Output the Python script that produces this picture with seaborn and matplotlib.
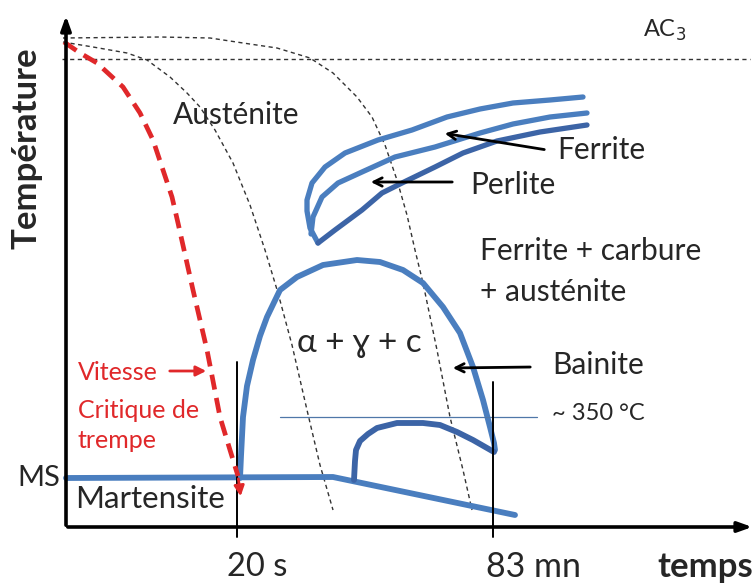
import numpy as np
import pandas as pd
import matplotlib
matplotlib.use("Agg")
import matplotlib.pyplot as plt
import seaborn as sns

sns.set_theme(style="white")
plt.rcParams["font.family"] = ["Lato", "DejaVu Sans"]
plt.rcParams["lines.solid_joinstyle"] = "round"
plt.rcParams["lines.dash_joinstyle"] = "round"

# Schematic TTT diagram: x = time (schematic units), y = temperature (schematic units)
AXIS_ORIGIN = (66, 59)
X_END = 755
Y_END = 573

AC3_LEVEL = 527
T350_LEVEL = 169

# Critical quench rate (red dashed cooling curve)
crit_x = [64, 80, 97, 123, 140, 153, 163, 172, 178, 193, 207, 220, 230, 238]
crit_y = [544, 533, 523, 499, 473, 446, 416, 389, 363, 296, 236, 169, 136, 110]

# Two slower cooling curves (thin dashed)
cool1_x = [63, 93, 127, 147, 170, 187, 200, 215, 233, 250, 265, 278, 292, 307, 320, 333]
cool1_y = [544, 539, 533, 526, 509, 493, 479, 456, 423, 381, 336, 293, 241, 176, 121, 76]
cool2_x = [63, 160, 210, 243, 277, 310, 333, 357, 372, 385, 397, 407, 415, 423, 437, 450, 463, 472]
cool2_y = [548, 549, 548, 543, 538, 528, 513, 489, 469, 441, 406, 371, 336, 303, 236, 169, 116, 76]

# MS line and end of bainite transformation
ms_x = [66, 333, 515]
ms_y = [108, 109, 71]

# Ferrite + carbide nose
nose_x = [240, 241, 243, 247, 253, 260, 267, 280, 297, 323, 357, 380, 403, 423,
          443, 460, 473, 483, 490, 494, 495]
nose_y = [108, 130, 169, 200, 226, 250, 269, 296, 309, 321, 326, 324, 316, 303,
          279, 253, 219, 186, 159, 143, 136]

# Bainite dome
bain_x = [354, 355, 356, 360, 368, 377, 397, 423, 440, 457, 473, 494]
bain_y = [106, 125, 136, 145, 152, 158, 163, 163, 161, 154, 146, 134]

# Ferrite / pearlite start and end curves
fer_x = [318, 310, 307, 307, 312, 325, 345, 378, 412, 447, 480, 513, 550, 583]
fer_y = [343, 358, 375, 386, 403, 419, 433, 446, 456, 469, 477, 483, 486, 489]
mid_x = [311, 313, 322, 338, 362, 395, 435, 480, 513, 550, 587]
mid_y = [352, 369, 389, 403, 414, 429, 439, 453, 462, 469, 473]
per_x = [318, 335, 362, 382, 402, 435, 463, 497, 540, 587]
per_y = [343, 356, 376, 393, 403, 419, 433, 445, 454, 461]

# Time marks
t20_x, t83_x = 237, 493
t20_top, t83_top = 224, 204
tick_bottom = 49

BLUE = "#4a7ebf"
DARK_BLUE = "#3c64a6"
RED = "#e0282a"
TEXT = "#262626"

fig = plt.figure(figsize=(7.56, 5.86), dpi=100)
ax = fig.add_axes([0, 0, 1, 1])
ax.set_xlim(0, 756)
ax.set_ylim(0, 586)
ax.axis("off")


def curve(xs, ys, **kw):
    df = pd.DataFrame({"x": xs, "y": ys})
    sns.lineplot(data=df, x="x", y="y", sort=False, estimator=None, ax=ax, **kw)


# Axes with arrows
ax.annotate("", xy=(X_END, AXIS_ORIGIN[1]), xytext=(AXIS_ORIGIN[0] - 1, AXIS_ORIGIN[1]),
            arrowprops=dict(arrowstyle="-|>,head_length=0.7,head_width=0.25", lw=2.6, color="black"))
ax.annotate("", xy=(AXIS_ORIGIN[0], Y_END), xytext=(AXIS_ORIGIN[0], AXIS_ORIGIN[1] - 1),
            arrowprops=dict(arrowstyle="-|>,head_length=0.7,head_width=0.25", lw=2.6, color="black"))

# AC3 level
ax.plot([62, 750], [AC3_LEVEL, AC3_LEVEL], ls=(0, (3, 2.5)), lw=1.0, color="#333333")

# Cooling curves
curve(cool1_x, cool1_y, color="#333333", lw=1.0, linestyle=(0, (3, 2.5)))
curve(cool2_x, cool2_y, color="#333333", lw=1.0, linestyle=(0, (3, 2.5)))

# Transformation curves
curve(ms_x, ms_y, color=BLUE, lw=4.2)
curve(nose_x, nose_y, color=BLUE, lw=4.2)
curve(bain_x, bain_y, color=DARK_BLUE, lw=4.2)
curve(fer_x, fer_y, color=BLUE, lw=3.8)
curve(mid_x, mid_y, color=BLUE, lw=3.8)
curve(per_x, per_y, color=DARK_BLUE, lw=3.8)

# ~350 °C level
ax.plot([280, 537], [T350_LEVEL, T350_LEVEL], color="#4f77a8", lw=0.9)

# Time marks
ax.plot([t20_x, t20_x], [tick_bottom, t20_top], color="black", lw=1.4)
ax.plot([t83_x, t83_x], [tick_bottom, t83_top], color="black", lw=1.4)

# Critical quench rate
curve(crit_x, crit_y, color=RED, lw=3.4, linestyle=(0, (3.2, 1.8)))
ax.annotate("", xy=(241, 87), xytext=(238, 110),
            arrowprops=dict(arrowstyle="-|>,head_length=0.5,head_width=0.25", lw=2.0, color=RED))

# Pointer arrows
arrow_kw = dict(arrowstyle="->,head_length=0.5,head_width=0.25", lw=2.0, color="black")
ax.annotate("", xy=(442, 453), xytext=(547, 436), arrowprops=arrow_kw)
ax.annotate("", xy=(368, 404), xytext=(455, 404), arrowprops=arrow_kw)
ax.annotate("", xy=(450, 218), xytext=(533, 219), arrowprops=arrow_kw)
ax.annotate("", xy=(209, 215), xytext=(167, 215),
            arrowprops=dict(arrowstyle="-|>,head_length=0.5,head_width=0.25", lw=2.0, color=RED))

# Labels
fs = 21.5
ax.text(27, 438, "Température", rotation=90, ha="center", va="center",
        fontsize=25, fontweight="bold", color=TEXT)
ax.text(705, 19, "temps", ha="center", va="center", fontsize=25, fontweight="bold", color=TEXT)
ax.text(257, 19, "20 s", ha="center", va="center", fontsize=23.5, color=TEXT)
ax.text(533, 19, "83 mn", ha="center", va="center", fontsize=24.5, color=TEXT)
ax.text(60, 108, "MS", ha="right", va="center", fontsize=21, color=TEXT)
ax.text(75, 87, "Martensite", ha="left", va="center", fontsize=22.5, color=TEXT)
ax.text(173, 471, "Austénite", ha="left", va="center", fontsize=fs, color=TEXT)
ax.text(643, 556, r"AC$_3$", ha="left", va="center", fontsize=17, color=TEXT)
ax.text(557, 436, "Ferrite", ha="left", va="center", fontsize=fs, color=TEXT)
ax.text(470, 401, "Perlite", ha="left", va="center", fontsize=fs, color=TEXT)
ax.text(480, 335, "Ferrite + carbure", ha="left", va="center", fontsize=fs, color=TEXT)
ax.text(480, 294, "+ austénite", ha="left", va="center", fontsize=fs, color=TEXT)
ax.text(297, 243, "α + ɣ + c", ha="left", va="center", fontsize=24, color=TEXT)
ax.text(552, 221, "Bainite", ha="left", va="center", fontsize=fs, color=TEXT)
ax.text(552, 173, "~ 350 °C", ha="left", va="center", fontsize=17, color=TEXT)
ax.text(78, 214, "Vitesse", ha="left", va="center", fontsize=18, color=RED)
ax.text(78, 176, "Critique de", ha="left", va="center", fontsize=18, color=RED)
ax.text(78, 145, "trempe", ha="left", va="center", fontsize=18, color=RED)

fig.savefig("out.png", dpi=100)
